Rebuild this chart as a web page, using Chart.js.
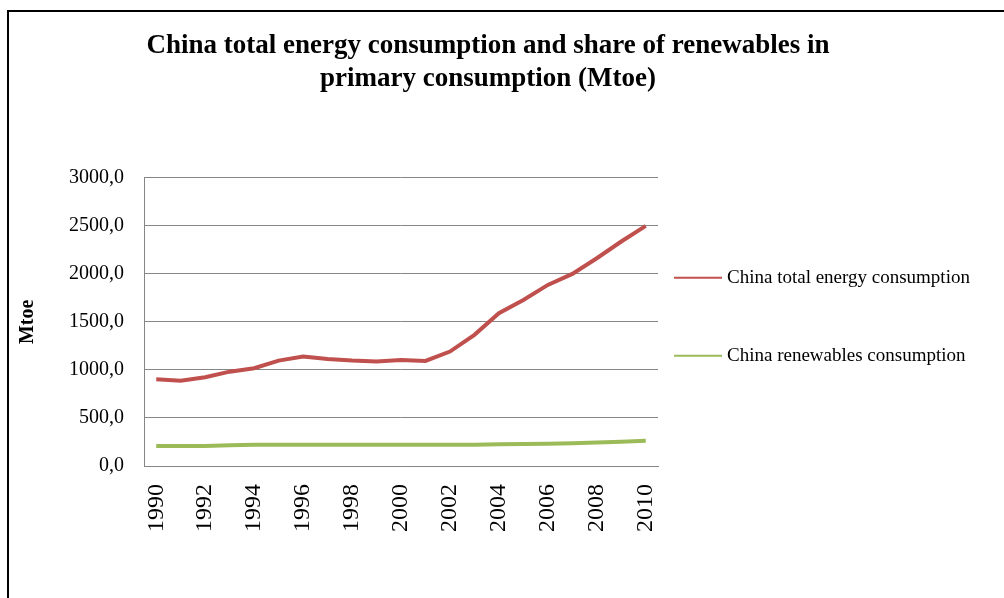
<!DOCTYPE html>
<html>
<head>
<meta charset="utf-8">
<script src="https://cdn.jsdelivr.net/npm/chart.js@4/dist/chart.umd.min.js"></script>
<style>
    html, body { margin: 0; padding: 0; background: #fff; }
    #wrap { position: relative; width: 1004px; height: 598px; overflow: hidden; }
    #frame { position: absolute; left: 7px; top: 10px; width: 1100px; height: 700px;
             border-left: 2px solid #000; border-top: 2.5px solid #000; }
    #wrap canvas { position: absolute; left: 0; top: 0; }
</style>
</head>
<body>
<div id="wrap">
    <div id="frame"></div>
    <canvas id="energyChart"></canvas>
</div>
<script>
// Years on the x axis
const years = [
    '1990', '1991', '1992', '1993', '1994', '1995', '1996', '1997', '1998', '1999', '2000',
    '2001', '2002', '2003', '2004', '2005', '2006', '2007', '2008', '2009', '2010'
];

// China total energy consumption (Mtoe)
const totalConsumption = [
    903, 888, 924, 982, 1018, 1097, 1139, 1115, 1097, 1087, 1104,
    1094, 1191, 1365, 1590, 1729, 1885, 2000, 2163, 2337, 2500
];

// China renewables consumption (Mtoe)
const renewablesConsumption = [
    208, 208, 208, 215, 220, 220, 220, 220, 220, 220, 220,
    220, 220, 220, 226, 229, 232, 238, 245, 252, 262
];

const seriesLabels = ['China total energy consumption', 'China renewables consumption'];
const seriesColors = ['#C0504D', '#9BBB59'];

const titleLines = [
    'China total energy consumption and share of renewables in',
    'primary consumption (Mtoe)'
];

Chart.defaults.font.family = '"Liberation Serif", "Times New Roman", serif';
Chart.defaults.color = '#000';

// Legend drawn beside the plot, one entry per dataset
const legendRowOffsets = [100, 178];
const sideLegend = {
    id: 'sideLegend',
    afterDraw(chart) {
        const { ctx, chartArea } = chart;
        ctx.save();
        ctx.font = '19px "Liberation Serif", serif';
        ctx.textBaseline = 'middle';
        ctx.fillStyle = '#000';
        chart.data.datasets.forEach((ds, i) => {
            const y = chartArea.top + legendRowOffsets[i];
            const x = chartArea.right + 16;
            ctx.strokeStyle = ds.borderColor;
            ctx.lineWidth = 2;
            ctx.beginPath();
            ctx.moveTo(x, y);
            ctx.lineTo(x + 48, y);
            ctx.stroke();
            ctx.fillText(ds.label, x + 53, y);
        });
        ctx.restore();
    }
};

const ctx = document.getElementById('energyChart').getContext('2d');

new Chart(ctx, {
    type: 'line',
    data: {
        labels: years,
        datasets: [
            {
                label: seriesLabels[0],
                data: totalConsumption,
                borderColor: seriesColors[0],
                backgroundColor: seriesColors[0],
                borderWidth: 4,
                pointRadius: 0,
                tension: 0
            },
            {
                label: seriesLabels[1],
                data: renewablesConsumption,
                borderColor: seriesColors[1],
                backgroundColor: seriesColors[1],
                borderWidth: 4,
                pointRadius: 0,
                tension: 0
            }
        ]
    },
    options: {
        responsive: true,
        maintainAspectRatio: false,
        animation: false,
        layout: {
            padding: { left: 8, right: 36, top: 10, bottom: 0 }
        },
        plugins: {
            legend: { display: false },
            tooltip: { enabled: false },
            title: {
                display: true,
                text: titleLines,
                color: '#000',
                font: { size: 27, weight: 'bold', lineHeight: 1.2 },
                padding: { top: 20, bottom: 83 }
            }
        },
        scales: {
            x: {
                offset: true,
                grid: { display: false, drawTicks: false },
                border: { display: true, color: '#868686', width: 1 },
                ticks: {
                    autoSkip: false,
                    minRotation: 90,
                    maxRotation: 90,
                    padding: 18,
                    font: { size: 24 },
                    callback: function (value, index) {
                        return index % 2 === 0 ? this.getLabelForValue(value) : '';
                    }
                },
                afterFit: (scale) => { scale.height = 132; }
            },
            y: {
                min: 0,
                max: 3000,
                grid: { color: '#868686', lineWidth: 1, drawTicks: false },
                border: { display: true, color: '#868686', width: 1 },
                ticks: {
                    stepSize: 500,
                    padding: 20,
                    font: { size: 20 },
                    callback: (value) => value.toFixed(1).replace('.', ',')
                },
                title: {
                    display: true,
                    text: 'Mtoe',
                    color: '#000',
                    font: { size: 20, weight: 'bold' },
                    padding: { top: 8, bottom: 0 }
                },
                afterFit: (scale) => { scale.width = 136; }
            },
            // empty right-hand axis that reserves room for the legend
            legendSpace: {
                position: 'right',
                display: true,
                grid: { display: false },
                border: { display: false },
                ticks: { display: false },
                afterFit: (scale) => { scale.width = 310; }
            }
        }
    },
    plugins: [sideLegend]
});
</script>
</body>
</html>
